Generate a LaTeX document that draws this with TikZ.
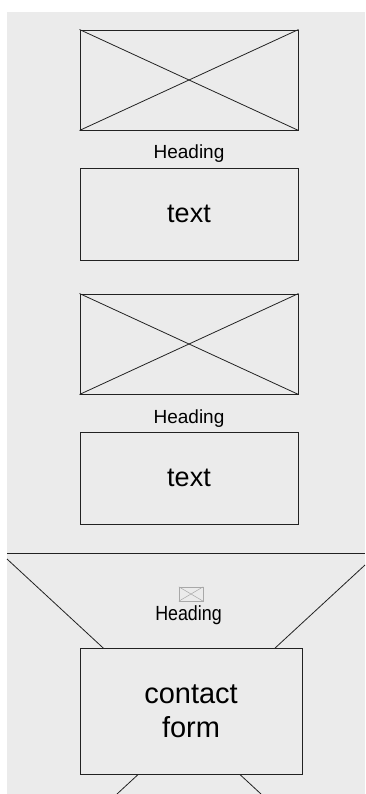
\documentclass[tikz,border=0pt]{standalone}
\usepackage{fontspec}
\setmainfont{Liberation Sans}
\definecolor{bg}{HTML}{EBEBEB}
\definecolor{ln}{HTML}{222222}
\definecolor{icon}{HTML}{A8A8A8}
\tikzset{
  imgbox/.style={draw=ln, line width=0.9pt, rectangle, minimum width=218pt, minimum height=100pt, inner sep=0pt},
  txtbox/.style={draw=ln, line width=0.9pt, rectangle, fill=bg, minimum width=218pt, minimum height=92pt, inner sep=0pt, font=\fontsize{27}{32}\selectfont},
  headtxt/.style={inner sep=0pt, anchor=base, font=\fontsize{19}{22}\selectfont},
  xline/.style={draw=ln, line width=0.8pt},
}
\begin{document}
\begin{tikzpicture}[x=1pt,y=-1pt]
\useasboundingbox (0,0) rectangle (365,794);
\fill[bg] (7,12) rectangle (365,794);

% section 1
\node[imgbox] (img1) at (189,80) {};
\draw[xline] (img1.north west) -- (img1.south east) (img1.north east) -- (img1.south west);
\node[headtxt] (head1) at (189,159) {Heading};
\node[txtbox] (txt1) at (189,214) {text};

% section 2
\node[imgbox] (img2) at (189,344) {};
\draw[xline] (img2.north west) -- (img2.south east) (img2.north east) -- (img2.south west);
\node[headtxt] (head2) at (189,423) {Heading};
\node[txtbox] (txt2) at (189,478) {text};

% section 3
\coordinate (hl) at (7,553);
\coordinate (hr) at (365,553);
\draw[draw=ln, line width=1pt] (hl) -- (hr);
\coordinate (xa1) at (7,559);
\coordinate (xa2) at (261,794);
\coordinate (xb1) at (365,565);
\coordinate (xb2) at (117,794);
\draw[xline] (xa1) -- (xa2);
\draw[xline] (xb1) -- (xb2);

\node[draw=icon, line width=0.5pt, rectangle, minimum width=24pt, minimum height=14pt, inner sep=0pt] (ico) at (191,594) {};
\draw[draw=icon, line width=0.5pt] (ico.north west) -- (ico.south east) (ico.north east) -- (ico.south west);
\node[inner sep=0pt, anchor=base] (head3) at (188.5,620.7) {\fontsize{20.5}{24}\selectfont\scalebox{0.87}[1]{Heading}};

\node[draw=ln, line width=0.9pt, rectangle, fill=bg, minimum width=222pt, minimum height=126pt, inner sep=0pt, align=center, font=\fontsize{29}{34}\selectfont] (form) at (191,711) {contact\\form};
\end{tikzpicture}
\end{document}
